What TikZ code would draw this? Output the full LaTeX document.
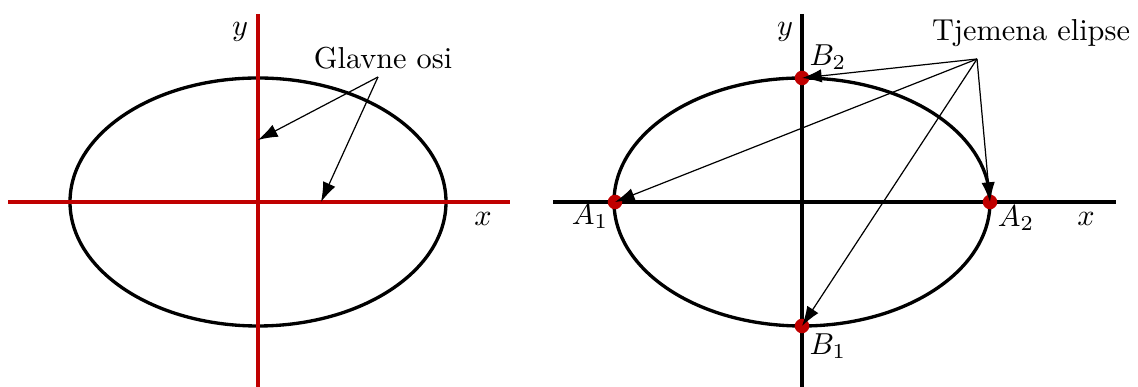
\documentclass[tikz,border=0pt]{standalone}
\usetikzlibrary{arrows.meta}
\definecolor{axred}{RGB}{192,0,0}
\begin{document}
\begin{tikzpicture}[x=0.33pt,y=-0.33pt,
  curve/.style={line width=1.1pt,black},
  axis/.style={line width=1.1pt},
  pointer/.style={line width=0.4pt,-{Latex[length=6.5pt,width=4.4pt]}},
  vtx/.style={circle,fill=axred,inner sep=0pt,minimum size=4.8pt},
  lbl/.style={inner sep=0pt}]
\useasboundingbox (0,0) rectangle (1138,387);
% ---------- left ----------
\coordinate (LxL) at (8,202);
\coordinate (LxR) at (510,202);
\coordinate (LyT) at (258,14);
\coordinate (LyB) at (258,387);
\draw[curve] (258,202) ellipse [x radius=188, y radius=124];
\draw[axis,axred] (LxL) -- (LxR);
\draw[axis,axred] (LyT) -- (LyB);
\node[lbl] (ly) at (240,32) {$y$};
\node[lbl] (lx) at (483,219) {$x$};
\node[lbl] (glav) at (383,58) {Glavne osi};
\coordinate (gsrc) at (378,77);
\coordinate (gy) at (258,140);
\coordinate (gx) at (321,202);
\draw[pointer] (gsrc) -- (gy);
\draw[pointer] (gsrc) -- (gx);
% ---------- right ----------
\coordinate (RxL) at (553,202);
\coordinate (RxR) at (1116,202);
\coordinate (RyT) at (802,14);
\coordinate (RyB) at (802,387);
\draw[curve] (802,202) ellipse [x radius=188, y radius=124];
\draw[axis] (RxL) -- (RxR);
\draw[axis] (RyT) -- (RyB);
\node[vtx] (A1) at (615,202) {};
\node[vtx] (A2) at (990,202) {};
\node[vtx] (B1) at (802,326) {};
\node[vtx] (B2) at (802,78) {};
\node[lbl] (ry) at (785,32) {$y$};
\node[lbl] (rx) at (1086,219) {$x$};
\node[lbl] (lA1) at (590,216) {$A_1$};
\node[lbl] (lA2) at (1016,218) {$A_2$};
\node[lbl] (lB1) at (828,346) {$B_1$};
\node[lbl] (lB2) at (828,57) {$B_2$};
\node[lbl] (tj) at (1031,33) {Tjemena elipse};
\coordinate (tsrc) at (977,59);
\draw[pointer] (tsrc) -- (B2.center);
\draw[pointer] (tsrc) -- (A1.center);
\draw[pointer] (tsrc) -- (A2.center);
\draw[pointer] (tsrc) -- (B1.center);
\end{tikzpicture}
\end{document}
